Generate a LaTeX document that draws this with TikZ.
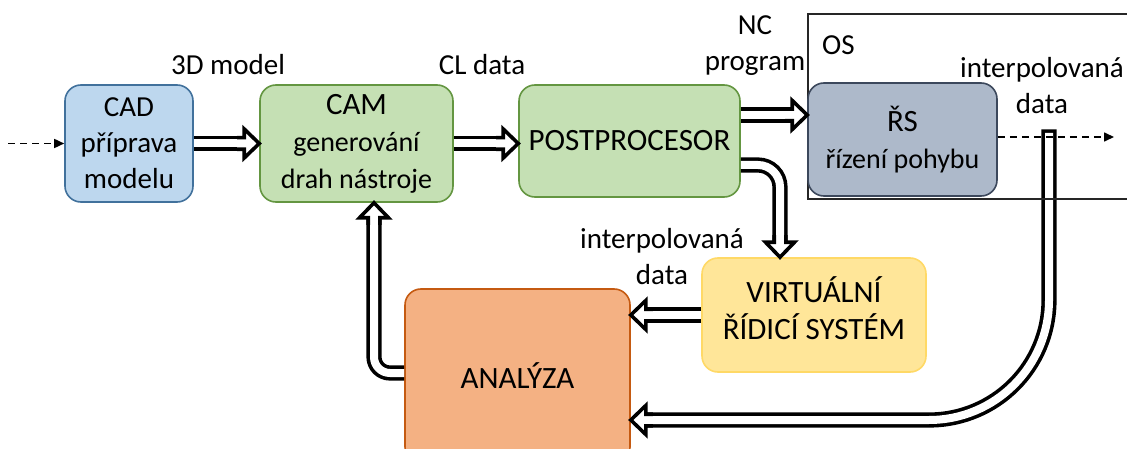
\documentclass[tikz,border=0pt]{standalone}
\usepackage{fontspec}
\setmainfont{Carlito}
\usetikzlibrary{arrows.meta}
\definecolor{cadfill}{RGB}{189,215,238}
\definecolor{cadline}{RGB}{65,113,156}
\definecolor{camfill}{RGB}{197,224,180}
\definecolor{camline}{RGB}{100,150,65}
\definecolor{rsfill}{RGB}{173,185,202}
\definecolor{rsline}{RGB}{60,72,92}
\definecolor{virtfill}{RGB}{255,230,153}
\definecolor{virtline}{RGB}{255,217,102}
\definecolor{anafill}{RGB}{244,177,131}
\definecolor{analine}{RGB}{197,90,17}
\newcommand{\fathead}[2]{\begin{scope}[shift={(#1)},rotate=#2]
\draw[line width=3.6pt, fill=white, miter limit=10] (-22,5.8) -- (-15,5.8) -- (-15,14.5) -- (0,0) -- (-15,-14.5) -- (-15,-5.8) -- (-22,-5.8);
\end{scope}}
\newcommand{\smallsz}{\fontsize{28}{34}\selectfont}
\tikzset{
  box/.style={draw, rounded corners=16pt, line width=1.6pt, align=center, inner sep=0pt, font=\fontsize{31}{37}\selectfont},
  fat/.style={line width=3.6pt, double=white, double distance=8pt},
  lbl/.style={font=\fontsize{29}{36}\selectfont, align=center, inner sep=0pt},
  dasharrow/.style={dashed, dash pattern=on 7pt off 5pt, line width=1.6pt, -{Triangle[length=10pt,width=9pt]}},
  frame/.style={line width=1.5pt, black!85}
}
\begin{document}
\begin{tikzpicture}[x=1pt,y=-1pt]
\useasboundingbox (0,0) rectangle (1127,449);
\clip (0,0) rectangle (1127,449);
\fill[white] (0,0) rectangle (1127,449);

% boxes
\node[box, fill=cadfill, draw=cadline, minimum width=128pt, minimum height=117pt, font=\fontsize{29}{36}\selectfont] (cad) at (129,143.5) {CAD\\příprava\\modelu};
\node[box, fill=camfill, draw=camline, minimum width=193pt, minimum height=117pt] (cam) at (356.5,143.5) {CAM\\\smallsz generování\\\smallsz drah nástroje};
\node[box, fill=camfill, draw=camline, minimum width=221pt, minimum height=112pt] (post) at (629.5,141) {POSTPROCESOR};
\node[box, fill=virtfill, draw=virtline, minimum width=224pt, minimum height=114pt,
  label={[align=center, inner sep=0pt, font=\fontsize{31}{37}\selectfont, yshift=7pt]center:VIRTUÁLNÍ\\ŘÍDICÍ SYSTÉM}] (virt) at (814,315) {};
\node[box, fill=anafill, draw=analine, minimum width=225pt, minimum height=174pt] (ana) at (517.5,376) {ANALÝZA};

% labels
\node[lbl] (l3d) at (228,65) {3D model};
\node[lbl] (lcl) at (482,65) {CL data};
\node[lbl] (lnc) at (755,46) {NC\\program};
\node[lbl] (lint1) at (1042,86) {interpolovaná\\data};
\node[lbl] (lint2) at (662,257) {interpolovaná\\data};

% arrow from RS tap to ANALYZA
\coordinate (t7) at (1049,137);
\coordinate (h7) at ([yshift=-44pt]ana.east);
\draw[fat, line cap=rect, rounded corners=120pt] (t7) -- (t7 |- h7) -- ([xshift=15pt]h7);
\fathead{h7}{180}

% OS frame
\coordinate (osa) at (1135,14);
\coordinate (osb) at (808,14);
\coordinate (osc) at (808,199);
\coordinate (osd) at (1135,199);
\draw[frame] (osa) -- (osb) -- (osc) -- (osd);
\node[lbl, anchor=west] (los) at (822,45) {OS};

\node[box, fill=rsfill, draw=rsline, minimum width=189pt, minimum height=113pt] (rs) at (902.5,139.5) {ŘS\\\smallsz řízení pohybu};

% fat arrows
\draw[fat] (cad.east) -- ([xshift=-15pt]cam.west);
\fathead{cam.west}{0}

\coordinate (h2) at (cam.east -| post.west);
\draw[fat] (cam.east) -- ([xshift=-15pt]h2);
\fathead{h2}{0}

\coordinate (s3) at ([yshift=26pt]post.east);
\coordinate (h3) at (s3 -| rs.west);
\draw[fat] (s3) -- ([xshift=-15pt]h3);
\fathead{h3}{0}

\coordinate (s4) at ([yshift=-24pt]post.east);
\coordinate (h4) at ([xshift=-34pt]virt.north);
\draw[fat, rounded corners=22pt] (s4) -- (s4 -| h4) -- ([yshift=15pt]h4);
\fathead{h4}{-90}

\coordinate (h5) at (virt.west -| ana.east);
\draw[fat] (virt.west) -- ([xshift=15pt]h5);
\fathead{h5}{180}

\coordinate (s6) at ([yshift=3pt]ana.west);
\coordinate (h6) at ([xshift=17.5pt]cam.south);
\draw[fat, rounded corners=16pt] (s6) -- (s6 -| h6) -- ([yshift=-15pt]h6);
\fathead{h6}{90}

% dashed arrows
\coordinate (in) at (8,143.5);
\draw[dasharrow] (in) -- (cad.west);
\coordinate (rsout) at ([yshift=2.5pt]rs.east);
\coordinate (out) at (rsout -| 1114,0);
\draw[dasharrow] (rsout) -- (out);
\end{tikzpicture}
\end{document}
